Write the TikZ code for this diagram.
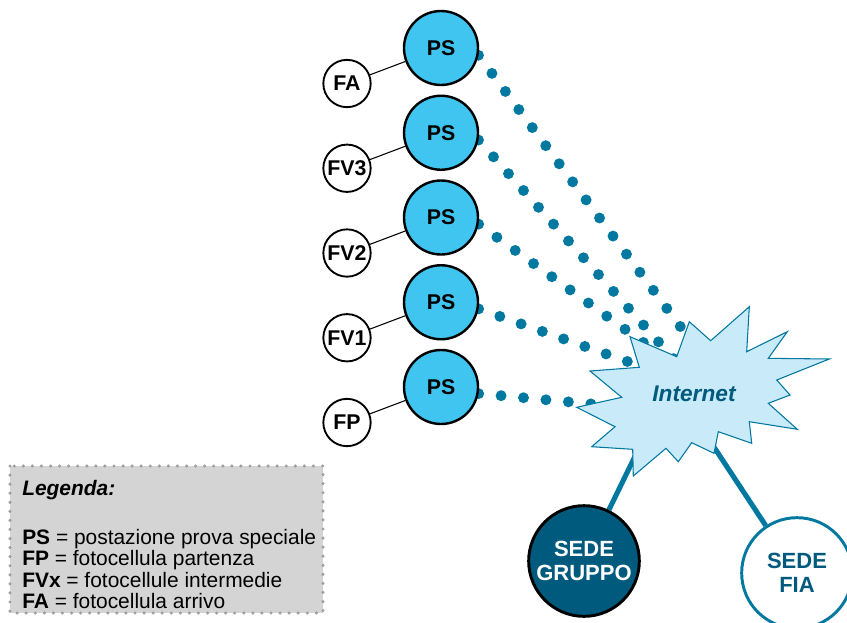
\documentclass[tikz,border=0pt]{standalone}
\usepackage{fontspec}
\setmainfont{Liberation Sans}
\usetikzlibrary{calc}
\definecolor{psblue}{RGB}{64,196,240}
\definecolor{netteal}{RGB}{0,120,160}
\definecolor{netfill}{RGB}{200,234,249}
\definecolor{sededark}{RGB}{0,90,125}
\definecolor{leggray}{RGB}{212,212,213}
\definecolor{legdots}{RGB}{160,160,160}
\pgfdeclarelayer{bg}
\pgfsetlayers{bg,main}

\begin{document}
\begin{tikzpicture}[x=0.75pt,y=-0.75pt,
	psnode/.style={circle,draw=black,line width=1.8pt,fill=psblue,minimum size=55.5pt,inner sep=0pt,
		font=\fontsize{16}{16}\selectfont\bfseries},
	fcnode/.style={circle,draw=black,line width=1.4pt,fill=white,minimum size=35.5pt,inner sep=0pt,
		font=\fontsize{16}{16}\selectfont\bfseries},
	sedenode/.style={circle,minimum size=83pt,inner sep=0pt,align=center,
		font=\fontsize{16.5}{18}\selectfont\bfseries},
	dotline/.style={netteal,line width=8.2pt,line cap=round,dash pattern=on 0pt off 16.9pt},
	netline/.style={netteal,line width=3.8pt},
	legtext/.style={inner sep=0pt,align=left,font=\fontsize{15.7}{16}\selectfont}]
			%%%%% START %%%%%
			\useasboundingbox (0,0) rectangle (847,622);
			
			% postazioni e fotocellule
			\node[psnode] (ps1) at (441,48) {PS};
			\node[psnode] (ps2) at (441,132.75) {PS};
			\node[psnode] (ps3) at (441,217.5) {PS};
			\node[psnode] (ps4) at (441,302.25) {PS};
			\node[psnode] (ps5) at (441,387) {PS};
			
			\node[fcnode] (fa) at (347,83.5) {FA};
			\node[fcnode] (fv3) at (347,168.25) {FV3};
			\node[fcnode] (fv2) at (347,253) {FV2};
			\node[fcnode] (fv1) at (347,337.75) {FV1};
			\node[fcnode] (fp) at (347,422.5) {FP};
			
			\draw[line width=0.8pt] (fa) -- (ps1);
			\draw[line width=0.8pt] (fv3) -- (ps2);
			\draw[line width=0.8pt] (fv2) -- (ps3);
			\draw[line width=0.8pt] (fv1) -- (ps4);
			\draw[line width=0.8pt] (fp) -- (ps5);
			
			% collegamenti verso internet
			\coordinate (in1) at (700,353);
			\coordinate (in2) at (680,366);
			\coordinate (in3) at (665,358);
			\coordinate (in4) at (660,373);
			\coordinate (in5) at (625,407);
			\coordinate (ingruppo) at (640,446);
			\coordinate (infia) at (708,438);
			
			\node[sedenode,draw=black,line width=2.2pt,fill=sededark,text=white] (gruppo) at (584,561) {SEDE\\GRUPPO};
			\node[sedenode,draw=netteal,line width=2.2pt,fill=white,text=sededark] (fia) at (797,573) {SEDE\\FIA};
			
			\begin{pgfonlayer}{bg}
				\draw[dotline] (ps1.-11) -- (in1);
				\draw[dotline] (ps2.-11) -- (in2);
				\draw[dotline] (ps3.-10) -- (in3);
				\draw[dotline] (ps4.-10) -- (in4);
				\draw[dotline] (ps5.-10) -- (in5);
				\draw[netline] (gruppo) -- (ingruppo);
				\draw[netline] (fia) -- (infia);
			\end{pgfonlayer}
			
			% nuvola internet
			\draw[netteal,line width=0.8pt,fill=netfill,line join=miter]
				(576.7,407.3) -- (621.7,397.3) -- (590,371) -- (639.3,367.3) -- (630,336.7)
				-- (676.7,356.7) -- (689.3,321.7) -- (710.7,340.7) -- (749.3,306.7) -- (746.7,351.7)
				-- (787.3,331.7) -- (768.3,358.3) -- (829.3,359) -- (776.7,380) -- (790,395)
				-- (768.3,403.3) -- (797.3,429.3) -- (749.3,421.7) -- (751.7,443.3) -- (718.3,431.7)
				-- (714,453.3) -- (691.7,442.7) -- (678.3,461.7) -- (666,448.3) -- (633.3,476)
				-- (632.7,449.3) -- (591.7,446.7) -- (615,426.7) -- cycle;
			\node[text=sededark,font=\fontsize{17}{17}\selectfont\bfseries\itshape] (net) at (694,394) {Internet};
			
			% legenda
			\draw[fill=leggray,draw=legdots,line width=2.6pt,line cap=round,dash pattern=on 0pt off 6.8pt]
				(10,466) rectangle (323,613);
			\node[legtext,anchor=base west] (legtitle) at (22,495) {\textbf{\textit{Legenda:}}};
			\node[legtext,anchor=north west] (legbody) at (22,529) {\textbf{PS} = postazione prova speciale\\
				\textbf{FP} = fotocellula partenza\\
				\textbf{FVx} = fotocellule intermedie\\
				\textbf{FA} = fotocellula arrivo};
			%%%%% END %%%%%
		\end{tikzpicture}
\end{document}
